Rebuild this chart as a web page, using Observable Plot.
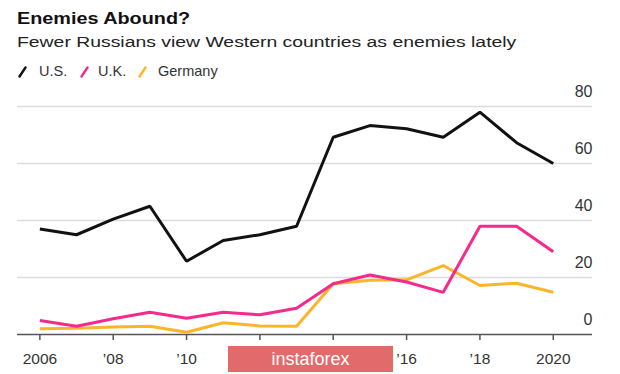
<!DOCTYPE html>
<html>
<head>
<meta charset="utf-8">
<script src="https://cdn.jsdelivr.net/npm/d3@7"></script>
<script src="https://cdn.jsdelivr.net/npm/@observablehq/plot@0.6"></script>
<style>
  html, body { margin: 0; padding: 0; background: #fff; }
  #wrap { position: relative; width: 620px; height: 374px; overflow: hidden; background: #fff; font-family: "Liberation Sans", Arial, sans-serif; }
  .title { position: absolute; left: 17px; top: 10px; font-size: 16.5px; line-height: 16.5px; font-weight: bold; color: #111; white-space: nowrap; transform: scaleX(1.2); transform-origin: left center; }
  .subtitle { position: absolute; left: 17px; top: 34.4px; font-size: 15.5px; line-height: 15.5px; color: #222; white-space: nowrap; transform: scaleX(1.25); transform-origin: left center; }
  .leg { position: absolute; top: 63.5px; font-size: 14.5px; line-height: 14.5px; color: #333; white-space: nowrap; }
  .sw { position: absolute; top: 66px; }
  #chart { position: absolute; left: 0; top: 80px; }
  .wm { position: absolute; left: 228px; top: 346px; width: 165px; height: 26px; background: #e36a6a; color: #fff; font-size: 18px; line-height: 26px; text-align: center; }
</style>
</head>
<body>
<div id="wrap">
  <div class="title">Enemies Abound?</div>
  <div class="subtitle">Fewer Russians view Western countries as enemies lately</div>
  <div id="legend"></div>
  <div id="chart"></div>
  <div class="wm">instaforex</div>
</div>
<script>
const years = [2006, 2007, 2008, 2009, 2010, 2011, 2012, 2013, 2014, 2015, 2016, 2017, 2018, 2019, 2020];
const us      = [37, 35, 40.5, 45, 25.7, 33, 35, 38, 69.2, 73.3, 72.2, 69.2, 78, 67.3, 60];
const uk      = [4.9, 2.9, 5.5, 7.8, 5.7, 7.8, 6.9, 9.2, 17.8, 20.9, 18.4, 14.8, 38, 38, 29];
const germany = [2, 2.2, 2.6, 2.9, 0.8, 4.1, 3, 2.9, 17.8, 19, 19.2, 24.2, 17.2, 18, 14.8];

const seriesNames = ["U.S.", "U.K.", "Germany"];
const seriesColors = ["#111111", "#f42a8d", "#fcb52b"];
const tickYears = [2006, 2008, 2010, 2012, 2014, 2016, 2018, 2020];
const tickLabels = ["2006", "’08", "’10", "’12", "’14", "’16", "’18", "2020"];
const yTicks = [0, 20, 40, 60, 80];
const gridValues = [20, 40, 60, 80];

// legend
const legend = document.getElementById("legend");
const swX = [18, 80, 138];
const txX = [39, 98, 158];
seriesNames.forEach((name, i) => {
  const sw = document.createElementNS("http://www.w3.org/2000/svg", "svg");
  sw.setAttribute("width", 10); sw.setAttribute("height", 12);
  sw.setAttribute("class", "sw");
  sw.style.left = swX[i] + "px";
  sw.innerHTML = `<line x1="1.5" y1="10.5" x2="7.5" y2="1.5" stroke="${seriesColors[i]}" stroke-width="2.4" stroke-linecap="round"/>`;
  legend.appendChild(sw);
  const t = document.createElement("div");
  t.className = "leg";
  t.style.left = txX[i] + "px";
  t.textContent = name;
  legend.appendChild(t);
});

const data = [];
[us, uk, germany].forEach((vals, s) => {
  years.forEach((yr, i) => data.push({ year: yr, value: vals[i], series: seriesNames[s] }));
});
const plotData = [...data.filter(d => d.series === "Germany"), ...data.filter(d => d.series === "U.K."), ...data.filter(d => d.series === "U.S.")];

const chart = Plot.plot({
  width: 620,
  height: 294,
  marginLeft: 17,
  marginRight: 28,
  marginTop: 26,
  marginBottom: 40,
  style: { fontFamily: "Liberation Sans, Arial, sans-serif", background: "transparent", color: "#333" },
  x: { domain: [2005.39, 2021.07], axis: null },
  y: { domain: [0, 80], axis: null },
  color: { domain: seriesNames, range: seriesColors },
  marks: [
    Plot.ruleY(gridValues, { stroke: "#dcdcdc", strokeWidth: 1.5 }),
    Plot.axisX(tickYears, {
      label: null,
      tickSize: 6,
      tickPadding: 12,
      stroke: "#555",
      strokeWidth: 1.5,
      fontSize: 15.5,
      fill: "#333",
      tickFormat: d => tickLabels[tickYears.indexOf(d)]
    }),
    Plot.ruleY([0], { stroke: "#555", strokeWidth: 1.5 }),
    Plot.line(plotData, { x: "year", y: "value", z: "series", stroke: "series", strokeWidth: 3, strokeLinejoin: "miter", strokeLinecap: "butt" }),
    Plot.text(yTicks, { y: d => d, text: d => String(d), frameAnchor: "right", textAnchor: "end", dy: -14.5, fontSize: 16, fill: "#333" })
  ]
});
document.getElementById("chart").appendChild(chart);
</script>
</body>
</html>
